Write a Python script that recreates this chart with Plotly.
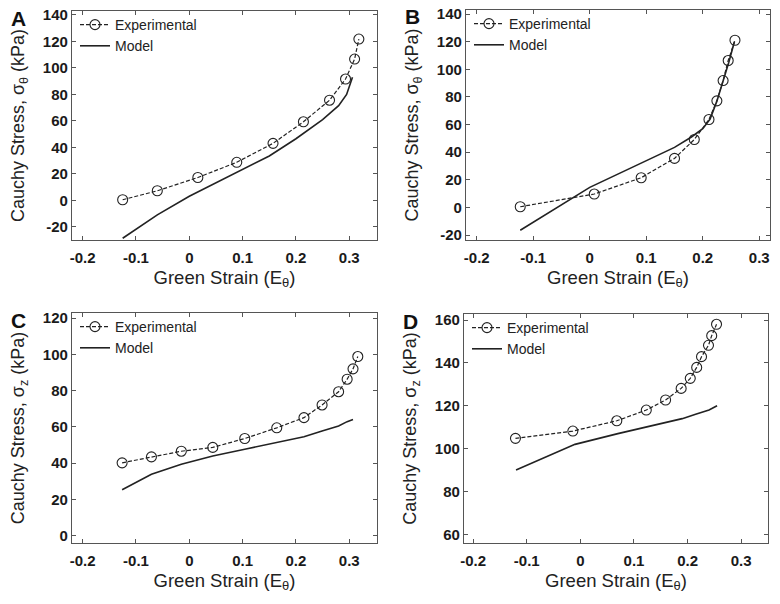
import plotly.graph_objects as go

# ---------------- data ----------------
# Panel A
a_exp_x = [-0.125, -0.060, 0.016, 0.089, 0.157, 0.214, 0.263, 0.293, 0.310, 0.318]
a_exp_y = [0.4, 7.2, 17.2, 28.7, 43.0, 59.3, 75.6, 91.6, 106.7, 121.8]
a_mod_x = [-0.125, -0.060, 0.0, 0.05, 0.10, 0.15, 0.20, 0.25, 0.28, 0.295, 0.306]
a_mod_y = [-28.7, -11.0, 3.0, 13.0, 23.0, 33.5, 46.5, 61.0, 71.5, 80.0, 93.0]
# Panel B
b_exp_x = [-0.123, 0.008, 0.091, 0.150, 0.185, 0.211, 0.225, 0.236, 0.245, 0.257]
b_exp_y = [0.5, 9.7, 21.5, 35.5, 49.2, 63.7, 77.2, 91.9, 106.4, 121.1]
b_mod_x = [-0.123, 0.0, 0.15, 0.18, 0.20, 0.213, 0.225, 0.236, 0.246, 0.256]
b_mod_y = [-16.5, 14.5, 43.5, 51.0, 57.0, 64.0, 77.0, 91.0, 105.0, 120.0]
# Panel C
c_exp_x = [-0.126, -0.071, -0.015, 0.044, 0.104, 0.164, 0.215, 0.249, 0.280, 0.296, 0.307, 0.316]
c_exp_y = [40.2, 43.5, 46.6, 48.7, 53.6, 59.5, 65.1, 72.1, 79.4, 86.3, 92.0, 98.8]
c_mod_x = [-0.126, -0.071, -0.015, 0.044, 0.104, 0.164, 0.215, 0.249, 0.280, 0.296, 0.307]
c_mod_y = [25.4, 33.9, 39.4, 44.0, 47.7, 51.4, 54.6, 57.7, 60.5, 62.9, 64.1]
# Panel D
d_exp_x = [-0.121, -0.014, 0.068, 0.123, 0.159, 0.188, 0.205, 0.217, 0.226, 0.239, 0.245, 0.254]
d_exp_y = [104.8, 108.2, 113.0, 118.0, 122.7, 128.1, 132.8, 137.9, 142.9, 148.2, 152.7, 158.0]
d_mod_x = [-0.12, -0.01, 0.07, 0.13, 0.19, 0.215, 0.24, 0.255]
d_mod_y = [90.0, 102.0, 107.0, 110.5, 114.0, 116.0, 118.0, 120.0]

x_tickvals = [-0.2, -0.1, 0, 0.1, 0.2, 0.3]
x_ticktext = ["-0.2", "-0.1", "0", "0.1", "0.2", "0.3"]
ab_tickvals = [-20, 0, 20, 40, 60, 80, 100, 120, 140]
ab_ticktext = ["-20", "0", "20", "40", "60", "80", "100", "120", "140"]
c_tickvals = [0, 20, 40, 60, 80, 100, 120]
c_ticktext = ["0", "20", "40", "60", "80", "100", "120"]
d_tickvals = [60, 80, 100, 120, 140, 160]
d_ticktext = ["60", "80", "100", "120", "140", "160"]

panel_letters = ["A", "B", "C", "D"]
x_title = "Green Strain (E<sub>θ</sub>)"
y_titles = ["Cauchy Stress, σ<sub>θ</sub> (kPa)", "Cauchy Stress, σ<sub>θ</sub> (kPa)",
            "Cauchy Stress, σ<sub>z</sub> (kPa)", "Cauchy Stress, σ<sub>z</sub> (kPa)"]

# ---------------- figure ----------------
W, H = 780, 604
FONT = "Liberation Sans, Arial, sans-serif"
INK = "#222222"
AXC = "#555555"

fig = go.Figure()

panels = [
    (a_exp_x, a_exp_y, a_mod_x, a_mod_y),
    (b_exp_x, b_exp_y, b_mod_x, b_mod_y),
    (c_exp_x, c_exp_y, c_mod_x, c_mod_y),
    (d_exp_x, d_exp_y, d_mod_x, d_mod_y),
]
legend_names = ["legend", "legend2", "legend3", "legend4"]

for i, (ex, ey, mx, my) in enumerate(panels):
    sfx = "" if i == 0 else str(i + 1)
    fig.add_trace(go.Scatter(
        x=ex, y=ey, mode="lines+markers", name="Experimental",
        line=dict(color=INK, width=1.2, dash="4px,2px"),
        marker=dict(symbol="circle-open", size=10, color=INK, line=dict(width=1.1, color=INK)),
        xaxis="x" + sfx, yaxis="y" + sfx, legend=legend_names[i],
    ))
    fig.add_trace(go.Scatter(
        x=mx, y=my, mode="lines", name="Model",
        line=dict(color=INK, width=1.6),
        xaxis="x" + sfx, yaxis="y" + sfx, legend=legend_names[i],
    ))

# pixel boxes: (left, right, top, bottom)
boxes = [(72, 377, 11, 240), (466, 770, 10, 240), (72, 377, 313, 543), (464, 768, 314, 543)]
xranges = [[-0.22, 0.352], [-0.219, 0.319], [-0.22, 0.352], [-0.217, 0.35]]
yranges = [[-30, 143], [-23.6, 143], [-4, 122.8], [56, 162.8]]
ytv = [ab_tickvals, ab_tickvals, c_tickvals, d_tickvals]
ytt = [ab_ticktext, ab_ticktext, c_ticktext, d_ticktext]


def bold(labels):
    return ["<b>%s</b>" % s for s in labels]


common = dict(
    showline=True, linecolor=AXC, linewidth=1.2, mirror="ticks",
    ticks="inside", ticklen=4, tickwidth=1, tickcolor=AXC,
    showgrid=False, zeroline=False, automargin=False,
    tickfont=dict(family=FONT, size=15, color="#1a1a1a", weight="bold"),
)

layout = dict(
    template="none",
    width=W, height=H, margin=dict(l=0, r=0, t=0, b=0, pad=0),
    paper_bgcolor="white", plot_bgcolor="white",
    font=dict(family=FONT, color=INK),
    showlegend=True,
)

annotations = []
for i, (l, r, t, b) in enumerate(boxes):
    sfx = "" if i == 0 else str(i + 1)
    layout["xaxis" + sfx] = dict(
        common, domain=[l / W, r / W], range=xranges[i], anchor="y" + sfx,
        tickvals=x_tickvals, ticktext=bold(x_ticktext), ticklabelstandoff=4,
        title=dict(text=x_title, font=dict(family=FONT, size=18.5, color=INK), standoff=5),
    )
    layout["yaxis" + sfx] = dict(
        common, domain=[1 - b / H, 1 - t / H], range=yranges[i], anchor="x" + sfx,
        tickvals=ytv[i], ticktext=bold(ytt[i]),
        title=dict(text=y_titles[i], font=dict(family=FONT, size=18, color=INK), standoff=13),
    )
    layout[legend_names[i]] = dict(
        x=(l + 3) / W, y=1 - (t - 2) / H, xanchor="left", yanchor="top",
        bgcolor="rgba(0,0,0,0)", borderwidth=0,
        font=dict(family=FONT, size=14, color=INK),
        tracegroupgap=0,
    )
    annotations.append(dict(
        text="<b>%s</b>" % panel_letters[i], xref="paper", yref="paper",
        x=(l - 54) / W, y=1 - (t + 7) / H, xanchor="center", yanchor="middle",
        showarrow=False, font=dict(family=FONT, size=21, color="#111111"),
    ))

layout["annotations"] = annotations
fig.update_layout(**layout)
fig.write_html(
    "out.html",
    config={"displayModeBar": False},
    post_script="document.body.style.margin='0';document.body.style.padding='0';",
)
